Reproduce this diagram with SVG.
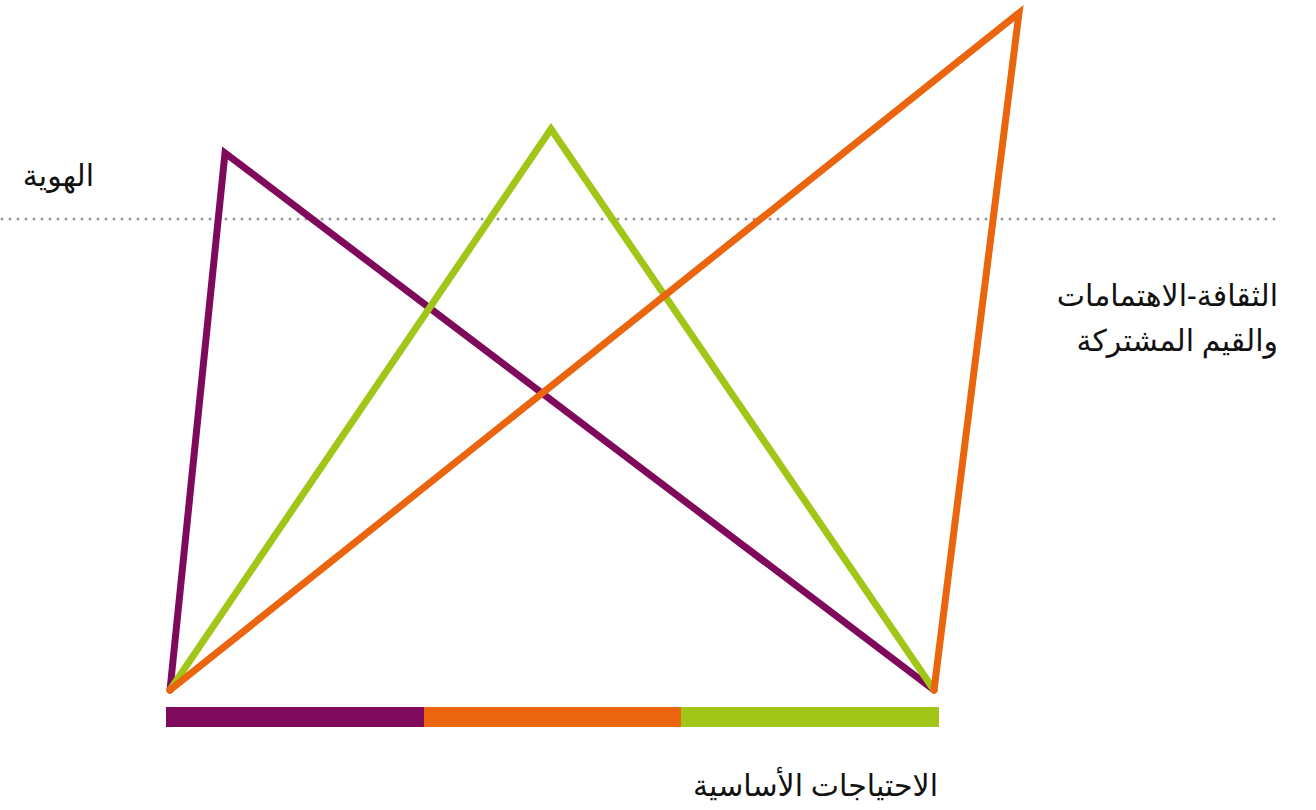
<svg xmlns="http://www.w3.org/2000/svg" width="1316" height="810" viewBox="0 0 1316 810">
<style>
.ln{fill:none;stroke-width:7;stroke-linecap:round;stroke-linejoin:miter;stroke-miterlimit:20}
.lbl{font-family:"Noto Sans","DejaVu Sans",sans-serif;font-size:30px;fill:#111;text-anchor:end}
</style>
<rect width="1316" height="810" fill="#fff"/>
<line x1="2" y1="219" x2="1280" y2="219" stroke="#999" stroke-width="3" stroke-linecap="round" stroke-dasharray="0 8"/>
<g id="connectors">
<polyline class="ln" stroke="#7F0A5C" points="170,690 225,153 934,690"/>
<polyline class="ln" stroke="#A2C617" points="170,690 551,129 934,690"/>
<polyline class="ln" stroke="#EA650D" points="170,690 1019,13 934,690"/>
</g>
<g id="bar">
<rect x="166" y="707" width="258" height="20" fill="#7F0A5C"/>
<rect x="424" y="707" width="257" height="20" fill="#EA650D"/>
<rect x="681" y="707" width="258" height="20" fill="#A2C617"/>
</g>
<g id="identity"><text class="lbl" x="94" y="186">الهوية</text></g>
<g id="culture"><text class="lbl" x="1278" y="306">الثقافة-الاهتمامات</text><text class="lbl" x="1278" y="351">والقيم المشتركة</text></g>
<g id="needs"><text class="lbl" x="938" y="796">الاحتياجات الأساسية</text></g>
</svg>
